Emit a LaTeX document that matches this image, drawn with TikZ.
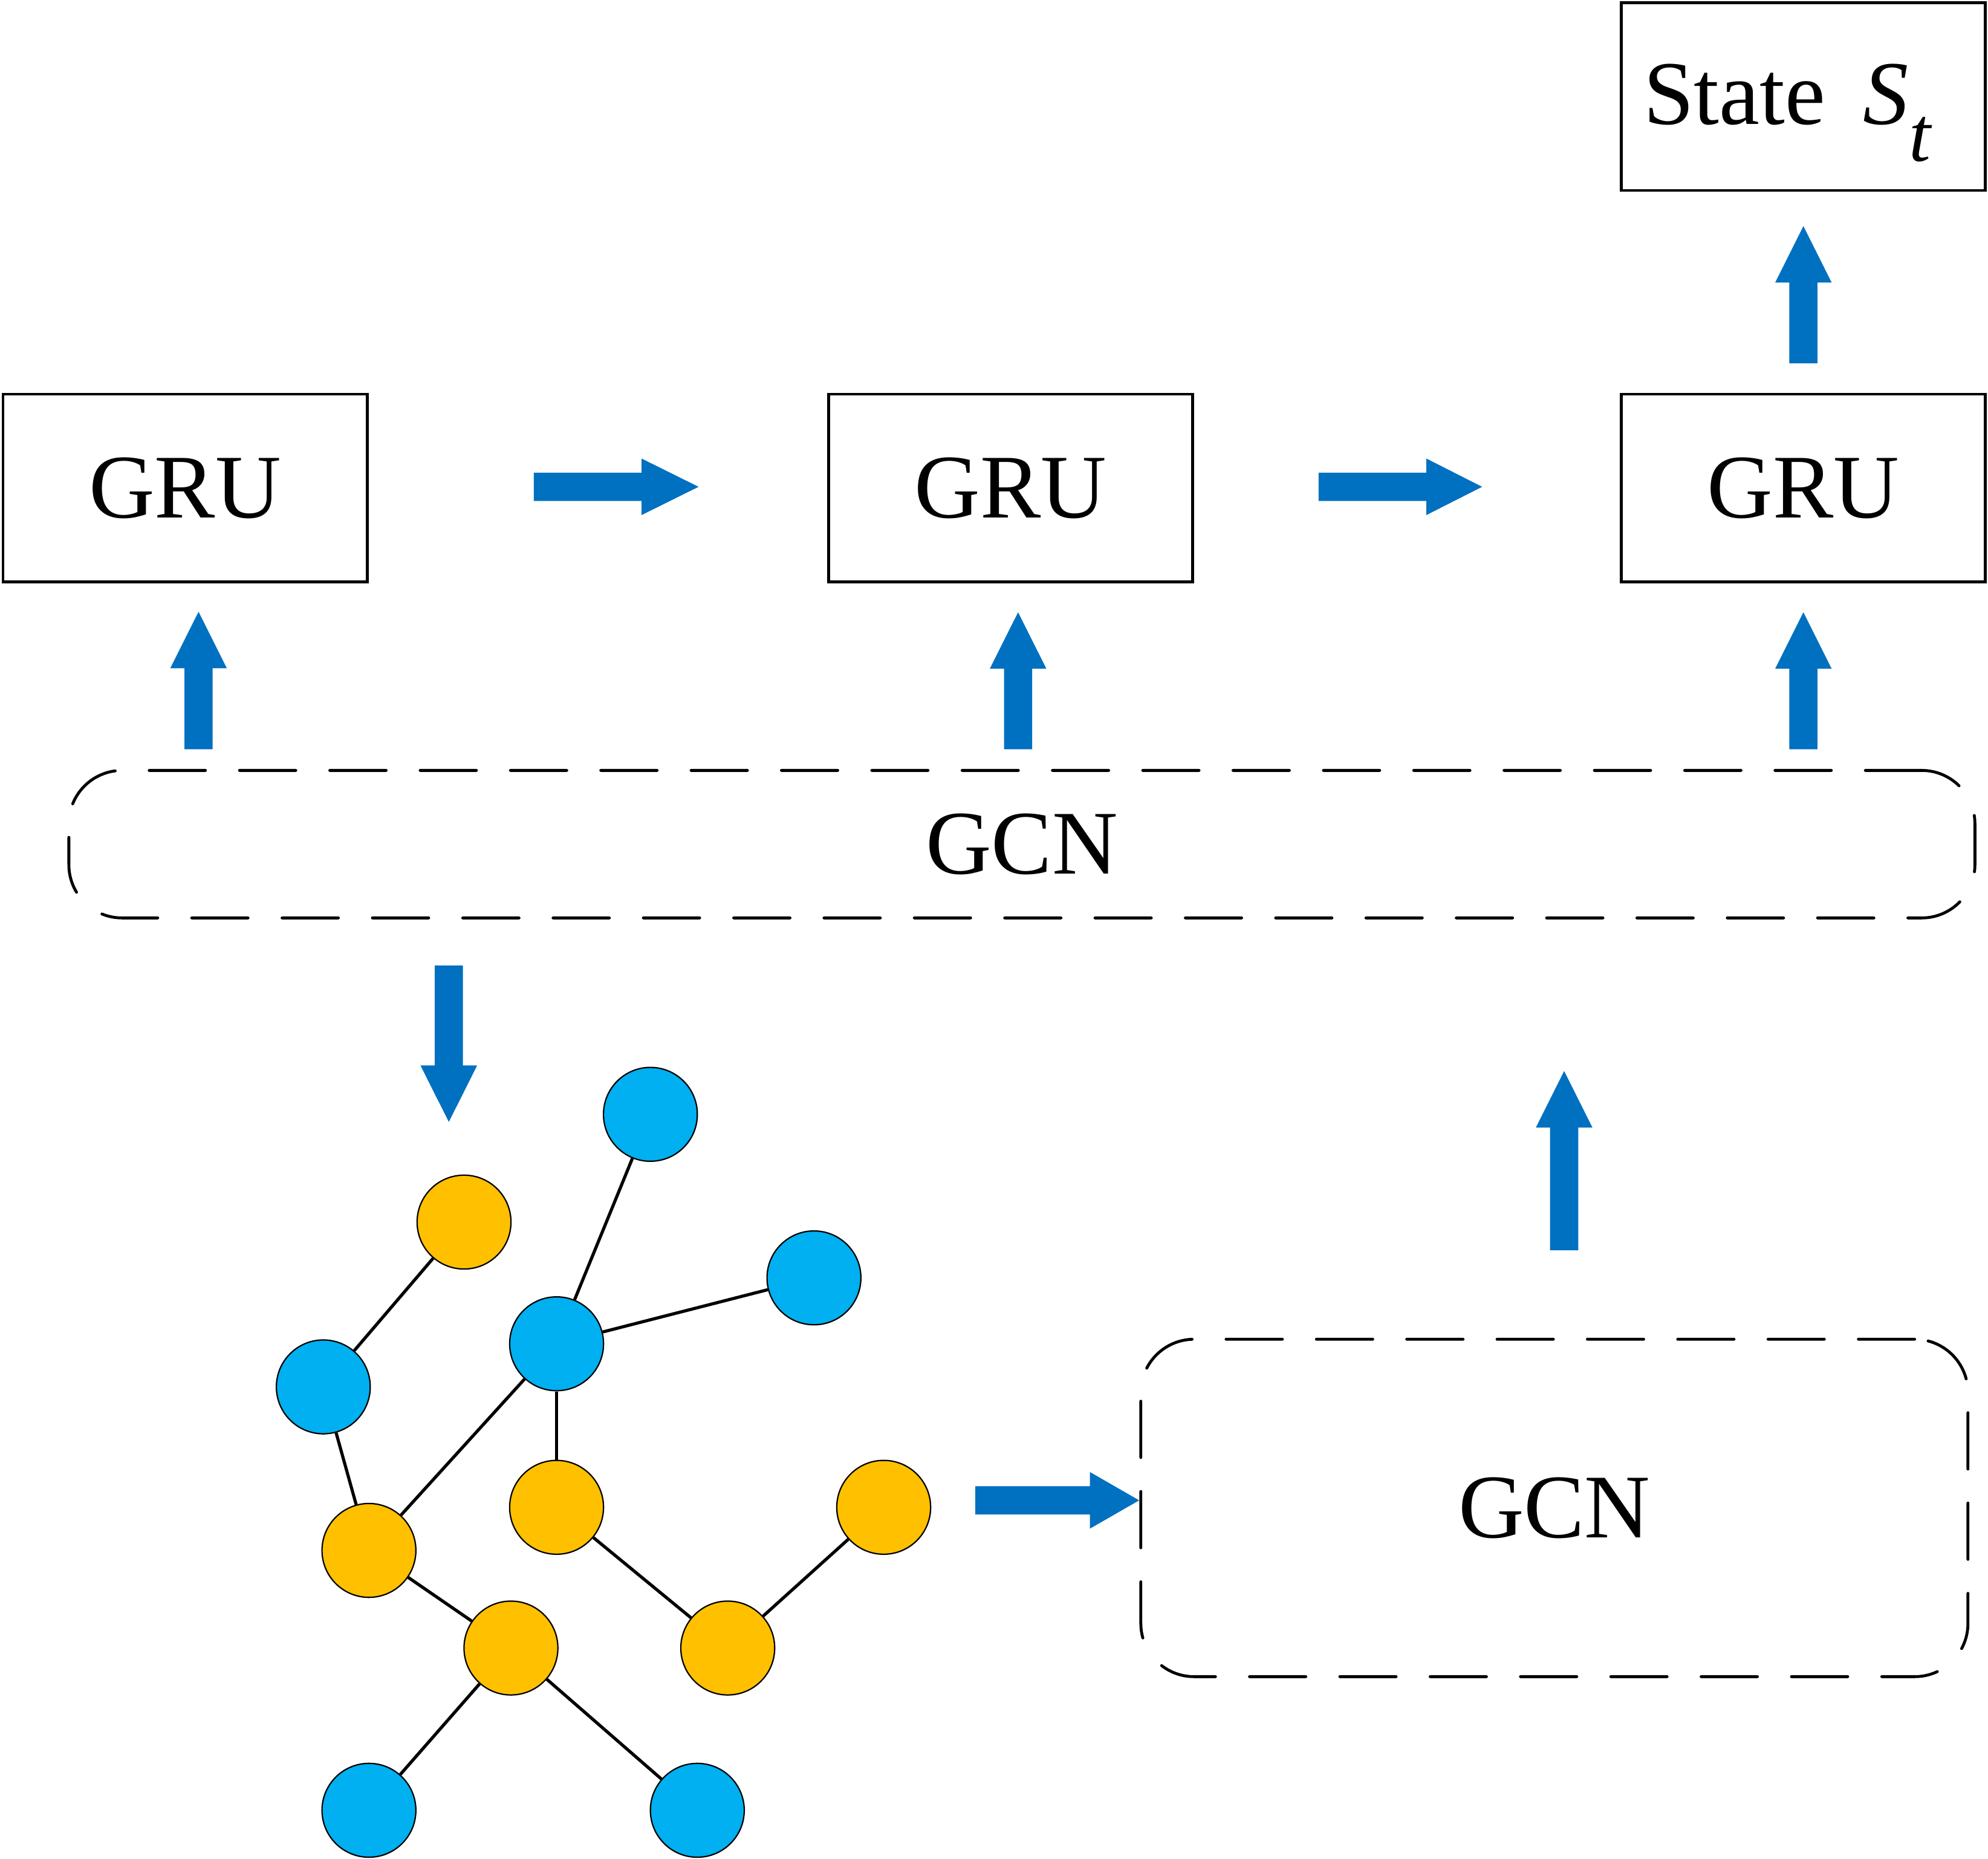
\documentclass[tikz,border=0pt]{standalone}
\usepackage{fontspec}
\setmainfont{Liberation Serif}
\definecolor{arrowblue}{RGB}{0,112,192}
\definecolor{nodeblue}{RGB}{0,176,240}
\definecolor{nodeyellow}{RGB}{255,192,0}
\newcommand\upblock[3]{% x, bottom y, tip y
  \fill[arrowblue] ({#1-11.1},#2) -- ({#1+11.1},#2) -- ({#1+11.1},{#3+44.5}) -- ({#1+22.3},{#3+44.5}) -- (#1,#3) -- ({#1-22.3},{#3+44.5}) -- ({#1-11.1},{#3+44.5}) -- cycle;}
\newcommand\downblock[3]{% x, top y, tip y
  \fill[arrowblue] ({#1-11.1},#2) -- ({#1+11.1},#2) -- ({#1+11.1},{#3-44.5}) -- ({#1+22.3},{#3-44.5}) -- (#1,#3) -- ({#1-22.3},{#3-44.5}) -- ({#1-11.1},{#3-44.5}) -- cycle;}
\newcommand\rightblock[4]{% y, left x, head start x, tip x
  \fill[arrowblue] (#2,{#1-11.1}) -- (#3,{#1-11.1}) -- (#3,{#1-22.3}) -- (#4,#1) -- (#3,{#1+22.3}) -- (#3,{#1+11.1}) -- (#2,{#1+11.1}) -- cycle;}
\begin{document}
\begin{tikzpicture}[x=0.01cm,y=-0.01cm,
  txt/.style={font=\fontsize{20.4pt}{24pt}\selectfont},
  box/.style={draw, line width=0.65pt, minimum width=2.87cm, minimum height=1.48cm, inner sep=0, txt},
  dashbox/.style={draw, line width=0.65pt, dash pattern=on 0.444cm off 0.268cm, line cap=round, rounded corners=0.42cm, inner sep=0, txt},
  bnode/.style={circle, draw, line width=0.3pt, fill=nodeblue, minimum size=0.74cm, inner sep=0},
  ynode/.style={circle, draw, line width=0.3pt, fill=nodeyellow, minimum size=0.74cm, inner sep=0},
  edge/.style={line width=0.7pt}]
\useasboundingbox (0,0) rectangle (1568,1466);

% boxes
\node[box] (gru1) at (146,385) {GRU};
\node[box] (gru2) at (797,385) {GRU};
\node[box] (gru3) at (1422.4,385) {GRU};
\node[box] (state) at (1422.4,76.2) {};
\node[anchor=base west, inner sep=0, txt] (statetext) at (1295.5,97.8)
  {State\hspace{0.3cm}\textit{S}\smash{\raisebox{-0.294cm}{\fontsize{17.5pt}{18pt}\selectfont\textit{t}}}};

\node[dashbox, minimum width=15.025cm, minimum height=1.163cm] (gcn1) at (806,665.9) {GCN};
\node[dashbox, minimum width=6.52cm, minimum height=2.66cm] (gcn2) at (1226,1189.5) {GCN};

% block arrows
\rightblock{384}{421}{506}{551}
\rightblock{384}{1040}{1125}{1169}
\rightblock{1183.5}{769.3}{859.7}{898.5}
\upblock{156.6}{591}{482.6}
\upblock{803}{591}{483}
\upblock{1422.4}{591}{483}
\upblock{1422.4}{286.5}{178.4}
\upblock{1233.7}{986.2}{844.9}
\downblock{354}{761.6}{885}

% graph
\node[bnode] (b1) at (513,879) {};
\node[ynode] (y1) at (366,964) {};
\node[bnode] (b2) at (642,1008) {};
\node[bnode] (b3) at (439,1060) {};
\node[bnode] (b4) at (255,1094) {};
\node[ynode] (y2) at (439,1189) {};
\node[ynode] (y3) at (697,1189) {};
\node[ynode] (y4) at (291,1223) {};
\node[ynode] (y5) at (403,1300) {};
\node[ynode] (y6) at (574,1300) {};
\node[bnode] (b5) at (291,1428) {};
\node[bnode] (b6) at (550,1428) {};

\draw[edge] (y1) -- (b4);
\draw[edge] (b1) -- (b3);
\draw[edge] (b3) -- (b2);
\draw[edge] (b3) -- (y4);
\draw[edge] (b3) -- (y2);
\draw[edge] (b4) -- (y4);
\draw[edge] (y4) -- (y5);
\draw[edge] (y2) -- (y6);
\draw[edge] (y3) -- (y6);
\draw[edge] (y5) -- (b5);
\draw[edge] (y5) -- (b6);
\end{tikzpicture}
\end{document}
